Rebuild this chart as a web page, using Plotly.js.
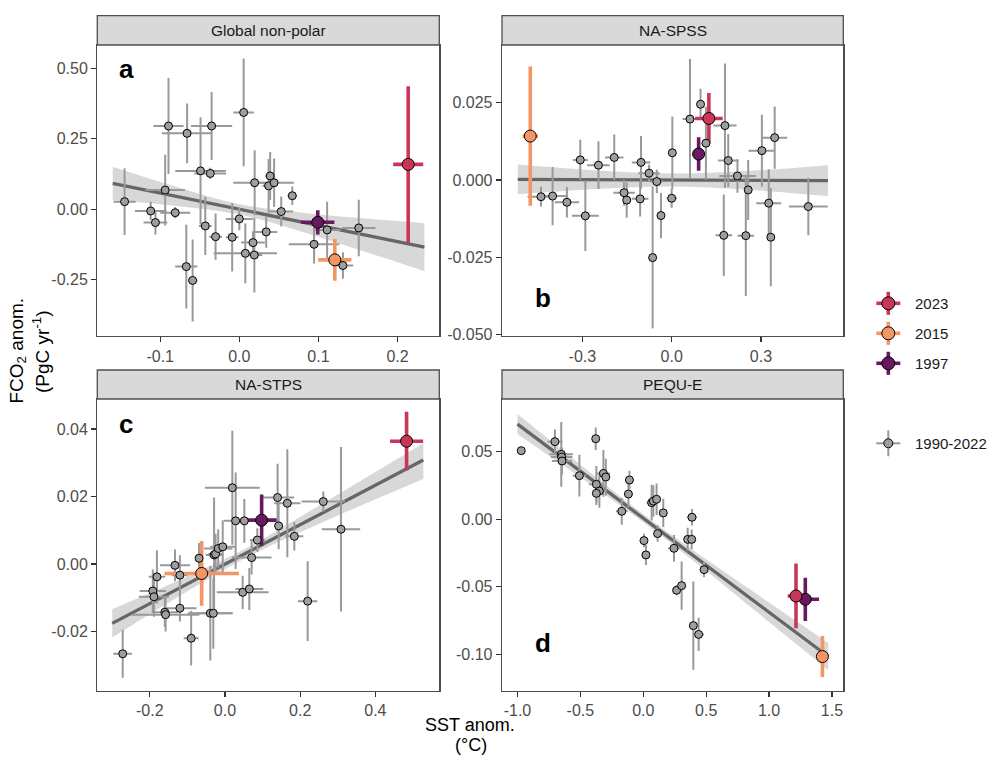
<!DOCTYPE html>
<html><head><meta charset="utf-8">
<script src="https://cdn.plot.ly/plotly-3.0.1.min.js"></script>
<style>html,body{margin:0;padding:0;background:#fff}#chart{width:1000px;height:766px}</style>
</head><body><div id="chart"></div>
<script>
// ---------- shared ----------
const hiYears = ['2023', '2015', '1997'];
const hiColors = ['#C8375A', '#F49664', '#69195F'];
const grayLabel = '1990-2022';
const panelTitles = ['Global non-polar', 'NA-SPSS', 'NA-STPS', 'PEQU-E'];
const panelLetters = ['a', 'b', 'c', 'd'];
const xTitle1 = 'SST anom.';
const xTitle2 = '(°C)';
const yTitle1 = 'FCO<sub>2</sub> anom.';
const yTitle2 = '(PgC yr<sup>-1</sup>)';

// ---------- panel a: Global non-polar ----------
const aGrayX  = [-0.145,-0.0895,-0.066,-0.035,0.0055,-0.049,-0.0367,-0.0937,-0.112,-0.106,-0.081,-0.043,-0.030,-0.067,-0.059,-0.009,0.0,0.0076,0.0173,0.019,0.0194,0.034,0.037,0.039,0.044,0.053,0.067,0.0945,0.111,0.131,0.151];
const aGrayY  = [0.027,0.295,0.269,0.295,0.343,0.136,0.127,0.068,-0.006,-0.047,-0.012,-0.059,-0.097,-0.203,-0.252,-0.099,-0.034,-0.156,-0.118,-0.162,0.094,-0.080,0.083,0.118,0.094,-0.008,0.048,-0.124,-0.073,-0.199,-0.066];
const aGrayEX = [0.014,0.019,0.032,0.026,0.013,0.032,0.020,0.025,0.020,0.015,0.019,0.008,0.008,0.014,0.006,0.008,0.017,0.040,0.015,0.010,0.027,0.014,0.008,0.006,0.025,0.015,0.006,0.032,0.017,0.013,0.021];
const aGrayEY = [0.118,0.170,0.106,0.120,0.191,0.190,0.020,0.125,0.033,0.042,0.020,0.103,0.082,0.148,0.145,0.121,0.040,0.106,0.040,0.133,0.115,0.056,0.095,0.085,0.086,0.053,0.033,0.068,0.100,0.047,0.100];
const aHiX  = [0.2135, 0.1207, 0.0992];
const aHiY  = [0.159, -0.179, -0.046];
const aHiEX = [0.019, 0.021, 0.021];
const aHiEY = [0.277, 0.074, 0.043];
const aFitX = [-0.160, 0.234];
const aFitY = [0.092, -0.134];
const aBandX  = [-0.160, -0.08, 0.0, 0.08, 0.16, 0.234];
const aBandLo = [0.033, 0.012, -0.018, -0.080, -0.151, -0.219];
const aBandHi = [0.151, 0.080, 0.018, -0.012, -0.033, -0.049];
const aXTicks = [-0.1, 0.0, 0.1, 0.2];
const aXTickText = ['-0.1', '0.0', '0.1', '0.2'];
const aYTicks = [-0.25, 0.0, 0.25, 0.5];
const aYTickText = ['-0.25', '0.00', '0.25', '0.50'];

// ---------- panel b: NA-SPSS ----------
const bGrayX  = [-0.439,-0.400,-0.352,-0.307,-0.290,-0.246,-0.193,-0.160,-0.151,-0.106,-0.103,-0.076,-0.050,-0.064,-0.036,0.0022,0.0,0.0615,0.097,0.115,0.179,0.190,0.221,0.257,0.175,0.249,0.303,0.346,0.326,0.333,0.459];
const bGrayY  = [-0.0054,-0.0052,-0.0072,0.0065,-0.0116,0.0048,0.0073,-0.0041,-0.0065,-0.0061,0.0057,0.0022,-0.0005,-0.0251,-0.0115,0.0088,-0.0059,0.0197,0.0245,0.0119,0.0176,0.0063,0.0013,-0.0032,-0.0179,-0.0180,0.0095,0.0137,-0.0075,-0.0185,-0.0086];
const bGrayEX = [0.045,0.045,0.041,0.025,0.045,0.038,0.031,0.036,0.010,0.028,0.031,0.036,0.020,0.010,0.010,0.010,0.017,0.025,0.010,0.010,0.039,0.034,0.061,0.010,0.028,0.028,0.045,0.042,0.042,0.010,0.065];
const bGrayEY = [0.0032,0.0094,0.0049,0.0065,0.0114,0.0077,0.0074,0.0042,0.0057,0.0057,0.0085,0.0027,0.0038,0.0229,0.0073,0.0117,0.0031,0.0194,0.0050,0.0118,0.0201,0.0086,0.0054,0.0097,0.0132,0.0195,0.0116,0.0101,0.0110,0.0159,0.0093];
const bHiX  = [0.125, -0.475, 0.0905];
const bHiY  = [0.0199, 0.0142, 0.0084];
const bHiEX = [0.0465, 0.026, 0.005];
const bHiEY = [0.0082, 0.0225, 0.0054];
const bFitX = [-0.517, 0.525];
const bFitY = [0.0002, -0.0002];
const bBandX  = [-0.517, -0.25, 0.0, 0.25, 0.525];
const bBandLo = [-0.0046, -0.0029, -0.0021, -0.0031, -0.0052];
const bBandHi = [0.0050, 0.0031, 0.0021, 0.0029, 0.0048];
const bXTicks = [-0.3, 0.0, 0.3];
const bXTickText = ['-0.3', '0.0', '0.3'];
const bYTicks = [-0.05, -0.025, 0.0, 0.025];
const bYTickText = ['-0.050', '-0.025', '0.000', '0.025'];

// ---------- panel c: NA-STPS ----------
const cGrayX  = [-0.272,-0.192,-0.189,-0.181,-0.160,-0.158,-0.133,-0.120,-0.120,-0.090,-0.069,-0.039,-0.031,-0.029,-0.025,-0.018,-0.006,0.0195,0.0284,0.0514,0.0709,0.086,0.047,0.0647,0.140,0.1427,0.1658,0.1844,0.2199,0.2615,0.3085];
const cGrayY  = [-0.0266,-0.0080,-0.0097,-0.0038,-0.0143,-0.0150,-0.0004,-0.0033,-0.0131,-0.0220,0.0017,-0.0146,-0.0146,0.0027,0.0030,0.0046,0.0051,0.0226,0.0128,0.0128,0.0019,0.0071,-0.0084,-0.0074,0.0197,0.0113,0.0180,0.0082,-0.0110,0.0185,0.0103];
const cGrayEX = [0.025,0.035,0.040,0.022,0.035,0.090,0.040,0.022,0.044,0.020,0.010,0.060,0.048,0.022,0.020,0.038,0.033,0.073,0.031,0.035,0.053,0.020,0.069,0.037,0.044,0.010,0.035,0.024,0.026,0.058,0.051];
const cGrayEY = [0.0071,0.0064,0.0059,0.0079,0.0044,0.0050,0.0047,0.0059,0.0039,0.0081,0.0045,0.0140,0.0105,0.0170,0.0060,0.0057,0.0079,0.0169,0.0143,0.0065,0.0050,0.0035,0.0049,0.0062,0.0100,0.0069,0.0160,0.0042,0.0118,0.0030,0.0244];
const cHiX  = [0.483, -0.062, 0.0975];
const cHiY  = [0.0364, -0.0028, 0.0130];
const cHiEX = [0.044, 0.099, 0.040];
const cHiEY = [0.0087, 0.0096, 0.0076];
const cFitX = [-0.300, 0.5275];
const cFitY = [-0.0176, 0.0308];
const cBandX  = [-0.300, -0.1, 0.05, 0.25, 0.5275];
const cBandLo = [-0.0218, -0.0081, 0.0015, 0.0119, 0.0252];
const cBandHi = [-0.0134, -0.0037, 0.0043, 0.0173, 0.0358];
const cXTicks = [-0.2, 0.0, 0.2, 0.4];
const cXTickText = ['-0.2', '0.0', '0.2', '0.4'];
const cYTicks = [-0.02, 0.0, 0.02, 0.04];
const cYTickText = ['-0.02', '0.00', '0.02', '0.04'];

// ---------- panel d: PEQU-E ----------
const dGrayX  = [-0.970,-0.702,-0.652,-0.649,-0.646,-0.508,-0.378,-0.373,-0.349,-0.373,-0.317,-0.298,-0.171,-0.118,-0.110,0.0665,0.080,0.106,0.159,0.114,0.0056,0.021,0.244,0.265,0.305,0.353,0.385,0.387,0.483,0.398,0.440];
const dGrayY  = [0.0508,0.0575,0.0481,0.0461,0.0432,0.0323,0.0597,0.0259,0.0209,0.0192,0.0340,0.0313,0.0059,0.0187,0.0291,0.0123,0.0135,0.0148,0.0047,-0.0106,-0.0158,-0.0264,-0.0215,-0.0526,-0.0492,-0.0149,-0.0149,0.0015,-0.0373,-0.0788,-0.0853];
const dGrayEX = [0.0,0.060,0.093,0.086,0.080,0.053,0.010,0.060,0.020,0.020,0.053,0.020,0.046,0.010,0.010,0.040,0.010,0.010,0.010,0.010,0.010,0.010,0.046,0.010,0.010,0.010,0.010,0.040,0.033,0.010,0.042];
const dGrayEY = [0.0,0.0090,0.0240,0.0050,0.0100,0.0155,0.0083,0.0136,0.0124,0.0086,0.0173,0.0136,0.0099,0.0099,0.0068,0.0132,0.0117,0.0117,0.0105,0.0060,0.0050,0.0074,0.0099,0.0037,0.0179,0.0086,0.0074,0.0062,0.0056,0.0327,0.0123];
const dHiX  = [1.214, 1.424, 1.288];
const dHiY  = [-0.0568, -0.1017, -0.0593];
const dHiEX = [0.066, 0.010, 0.109];
const dHiEY = [0.024, 0.0152, 0.016];
const dFitX = [-1.0, 1.47];
const dFitY = [0.0705, -0.1017];
const dBandX  = [-1.0, -0.4, 0.0, 0.5, 1.0, 1.47];
const dBandLo = [0.0631, 0.0244, -0.0022, -0.0383, -0.0761, -0.1116];
const dBandHi = [0.0779, 0.0330, 0.0038, -0.0297, -0.0617, -0.0916];
const dXTicks = [-1.0, -0.5, 0.0, 0.5, 1.0, 1.5];
const dXTickText = ['-1.0', '-0.5', '0.0', '0.5', '1.0', '1.5'];
const dYTicks = [-0.1, -0.05, 0.0, 0.05];
const dYTickText = ['-0.10', '-0.05', '0.00', '0.05'];

// ---------- layout geometry (pixels of the 1000x766 page) ----------
const W = 1000, H = 766;
const FONT = 'Liberation Sans, Arial, Helvetica, sans-serif';
const colL = [97.3, 439.3], colR = [502, 843.3];
const rowT = [45, 336], rowB = [399, 690.7];
const stripT = 15.7, stripB = 370;
const px = v => v / W, py = v => 1 - v / H;

const panels = [
  {gx: aGrayX, gy: aGrayY, gex: aGrayEX, gey: aGrayEY, hx: aHiX, hy: aHiY, hex: aHiEX, hey: aHiEY,
   fx: aFitX, fy: aFitY, bx: aBandX, blo: aBandLo, bhi: aBandHi,
   xr: [-0.1795, 0.2528], yr: [-0.4487, 0.5818], xt: aXTicks, xtt: aXTickText, yt: aYTicks, ytt: aYTickText,
   col: colL, row: rowT, strip: stripT, letter: [116.7, 68.9]},
  {gx: bGrayX, gy: bGrayY, gex: bGrayEX, gey: bGrayEY, hx: bHiX, hy: bHiY, hex: bHiEX, hey: bHiEY,
   fx: bFitX, fy: bFitY, bx: bBandX, blo: bBandLo, bhi: bBandHi,
   xr: [-0.570, 0.5765], yr: [-0.05045, 0.04366], xt: bXTicks, xtt: bXTickText, yt: bYTicks, ytt: bYTickText,
   col: colR, row: rowT, strip: stripT, letter: [533.3, 298.3]},
  {gx: cGrayX, gy: cGrayY, gex: cGrayEX, gey: cGrayEY, hx: cHiX, hy: cHiY, hex: cHiEX, hey: cHiEY,
   fx: cFitX, fy: cFitY, bx: cBandX, blo: cBandLo, bhi: cBandHi,
   xr: [-0.3396, 0.570], yr: [-0.03754, 0.0489], xt: cXTicks, xtt: cXTickText, yt: cYTicks, ytt: cYTickText,
   col: colL, row: rowB, strip: stripB, letter: [116.7, 423.9]},
  {gx: dGrayX, gy: dGrayY, gex: dGrayEX, gey: dGrayEY, hx: dHiX, hy: dHiY, hex: dHiEX, hey: dHiEY,
   fx: dFitX, fy: dFitY, bx: dBandX, blo: dBandLo, bhi: dBandHi,
   xr: [-1.123, 1.590], yr: [-0.127, 0.0891], xt: dXTicks, xtt: dXTickText, yt: dYTicks, ytt: dYTickText,
   col: colR, row: rowB, strip: stripB, letter: [533.3, 643.3]}
];

const GRAY_FILL = '#9e9e9e', GRAY_BAR = '#999999', LINE = '#666666', BAND = 'rgba(153,153,153,0.38)';
const traces = [];
const layout = {
  width: W, height: H, margin: {l: 0, r: 0, t: 0, b: 0},
  paper_bgcolor: '#ffffff', plot_bgcolor: '#ffffff', showlegend: false,
  font: {family: FONT, color: '#1a1a1a'},
  shapes: [], annotations: []
};

panels.forEach((p, i) => {
  const n = i === 0 ? '' : String(i + 1);
  const xa = 'x' + n, ya = 'y' + n;
  const axBase = {
    showline: true, mirror: true, linecolor: '#4d4d4d', linewidth: 1.3,
    ticks: 'outside', ticklen: 5, tickwidth: 1.2, tickcolor: '#333333',
    showgrid: false, zeroline: false, fixedrange: true,
    tickfont: {family: FONT, size: 16, color: '#4d4d4d'}, tickmode: 'array'
  };
  layout['xaxis' + n] = Object.assign({}, axBase, {
    domain: [px(p.col[0]), px(p.col[1])], anchor: ya, range: p.xr,
    tickvals: p.xt, ticktext: p.xtt
  });
  layout['yaxis' + n] = Object.assign({}, axBase, {
    domain: [py(p.row[1]), py(p.row[0])], anchor: xa, range: p.yr,
    tickvals: p.yt, ticktext: p.ytt
  });

  // confidence band
  traces.push({x: p.bx, y: p.blo, xaxis: xa, yaxis: ya, mode: 'lines', type: 'scatter',
    line: {width: 0, shape: 'spline'}, hoverinfo: 'skip'});
  traces.push({x: p.bx, y: p.bhi, xaxis: xa, yaxis: ya, mode: 'lines', type: 'scatter',
    line: {width: 0, shape: 'spline'}, fill: 'tonexty', fillcolor: BAND, hoverinfo: 'skip'});
  // regression line
  traces.push({x: p.fx, y: p.fy, xaxis: xa, yaxis: ya, mode: 'lines', type: 'scatter',
    line: {color: LINE, width: 3.3}, hoverinfo: 'skip'});

  // error bars: gray then highlights
  traces.push({x: p.gx, y: p.gy, xaxis: xa, yaxis: ya, mode: 'markers', type: 'scatter',
    marker: {size: 1, opacity: 0},
    error_x: {type: 'data', array: p.gex, thickness: 2, width: 0, color: GRAY_BAR},
    error_y: {type: 'data', array: p.gey, thickness: 2, width: 0, color: GRAY_BAR}});
  [2, 1, 0].forEach(k => {
    traces.push({x: [p.hx[k]], y: [p.hy[k]], xaxis: xa, yaxis: ya, mode: 'markers', type: 'scatter',
      marker: {size: 1, opacity: 0},
      error_x: {type: 'data', array: [p.hex[k]], thickness: 3.6, width: 0, color: hiColors[k]},
      error_y: {type: 'data', array: [p.hey[k]], thickness: 3.6, width: 0, color: hiColors[k]}});
  });
  // points
  traces.push({x: p.gx, y: p.gy, xaxis: xa, yaxis: ya, mode: 'markers', type: 'scatter', name: grayLabel,
    marker: {size: 8, color: GRAY_FILL, line: {color: '#000000', width: 1}}});
  [2, 1, 0].forEach(k => {
    traces.push({x: [p.hx[k]], y: [p.hy[k]], xaxis: xa, yaxis: ya, mode: 'markers', type: 'scatter', name: hiYears[k],
      marker: {size: 12, color: hiColors[k], line: {color: '#000000', width: 1}}});
  });

  // strip
  layout.shapes.push({type: 'rect', xref: 'paper', yref: 'paper',
    x0: px(p.col[0]), x1: px(p.col[1]), y0: py(p.row[0]), y1: py(p.strip),
    fillcolor: '#d9d9d9', line: {color: '#4d4d4d', width: 1.3}, layer: 'above'});
  layout.annotations.push({xref: 'paper', yref: 'paper', x: px((p.col[0] + p.col[1]) / 2),
    y: py((p.row[0] + p.strip) / 2), text: panelTitles[i], showarrow: false,
    xanchor: 'center', yanchor: 'middle', font: {family: FONT, size: 15.5, color: '#1a1a1a'}});
  // panel letter
  layout.annotations.push({xref: 'paper', yref: 'paper', x: px(p.letter[0]), y: py(p.letter[1]),
    text: '<b>' + panelLetters[i] + '</b>', showarrow: false, xanchor: 'left', yanchor: 'middle',
    font: {family: FONT, size: 26, color: '#000000'}});
});

// axis titles
layout.annotations.push({xref: 'paper', yref: 'paper', x: px(470), y: py(724.5), text: xTitle1,
  showarrow: false, xanchor: 'center', yanchor: 'middle', font: {family: FONT, size: 18, color: '#000000'}});
layout.annotations.push({xref: 'paper', yref: 'paper', x: px(470.5), y: py(744.5), text: xTitle2,
  showarrow: false, xanchor: 'center', yanchor: 'middle', font: {family: FONT, size: 18, color: '#000000'}});
layout.annotations.push({xref: 'paper', yref: 'paper', x: px(17.5), y: py(351), text: yTitle1, textangle: -90,
  showarrow: false, xanchor: 'center', yanchor: 'middle', font: {family: FONT, size: 19, color: '#000000'}});
layout.annotations.push({xref: 'paper', yref: 'paper', x: px(41), y: py(352), text: yTitle2, textangle: -90,
  showarrow: false, xanchor: 'center', yanchor: 'middle', font: {family: FONT, size: 19, color: '#000000'}});

// legend (drawn manually: cross + circle keys)
const legX = 888.3, legTextX = 913.3;
const legRows = [303.3, 333.3, 363.3];
hiYears.forEach((yr, k) => {
  const cy = legRows[k];
  layout.shapes.push({type: 'line', xref: 'paper', yref: 'paper', x0: px(legX - 12), x1: px(legX + 12),
    y0: py(cy), y1: py(cy), line: {color: hiColors[k], width: 3.6}});
  layout.shapes.push({type: 'line', xref: 'paper', yref: 'paper', x0: px(legX), x1: px(legX),
    y0: py(cy - 11.5), y1: py(cy + 11.5), line: {color: hiColors[k], width: 3.6}});
  layout.shapes.push({type: 'circle', xref: 'paper', yref: 'paper', x0: px(legX - 6.5), x1: px(legX + 6.5),
    y0: py(cy + 6.5), y1: py(cy - 6.5), fillcolor: hiColors[k], line: {color: '#000000', width: 1}});
  layout.annotations.push({xref: 'paper', yref: 'paper', x: px(legTextX), y: py(cy), text: yr,
    showarrow: false, xanchor: 'left', yanchor: 'middle', font: {family: FONT, size: 15, color: '#1a1a1a'}});
});
const gcy = 443.3;
layout.shapes.push({type: 'line', xref: 'paper', yref: 'paper', x0: px(legX - 12), x1: px(legX + 12),
  y0: py(gcy), y1: py(gcy), line: {color: GRAY_BAR, width: 2}});
layout.shapes.push({type: 'line', xref: 'paper', yref: 'paper', x0: px(legX), x1: px(legX),
  y0: py(gcy - 13), y1: py(gcy + 13), line: {color: GRAY_BAR, width: 2}});
layout.shapes.push({type: 'circle', xref: 'paper', yref: 'paper', x0: px(legX - 4.5), x1: px(legX + 4.5),
  y0: py(gcy + 4.5), y1: py(gcy - 4.5), fillcolor: GRAY_FILL, line: {color: '#000000', width: 1}});
layout.annotations.push({xref: 'paper', yref: 'paper', x: px(legTextX), y: py(gcy), text: grayLabel,
  showarrow: false, xanchor: 'left', yanchor: 'middle', font: {family: FONT, size: 15, color: '#1a1a1a'}});

Plotly.newPlot('chart', traces, layout, {staticPlot: true, displayModeBar: false});
</script></body></html>
